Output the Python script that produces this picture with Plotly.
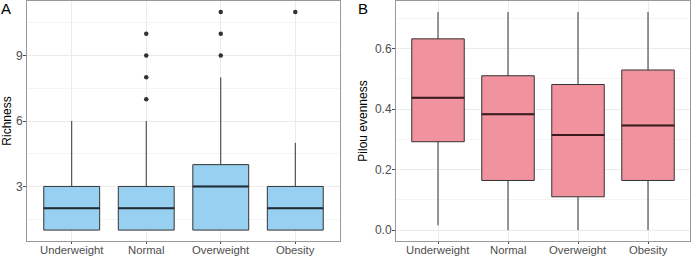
import plotly.graph_objects as go

categories = ["Underweight", "Normal", "Overweight", "Obesity"]

# Panel A: Richness
rich_low = [1, 1, 1, 1]
rich_q1 = [1, 1, 1, 1]
rich_med = [2, 2, 3, 2]
rich_q3 = [3, 3, 4, 3]
rich_high = [6, 6, 8, 5]
rich_outliers = [[], [7, 8, 9, 10], [9, 10, 11], [11]]

# Panel B: Pilou evenness
even_low = [0.016, 0.0, 0.0, 0.0]
even_q1 = [0.292, 0.164, 0.110, 0.164]
even_med = [0.437, 0.383, 0.314, 0.346]
even_q3 = [0.632, 0.510, 0.481, 0.529]
even_high = [0.721, 0.721, 0.721, 0.721]

BLUE = "#97D0F0"
PINK = "#F1939F"
EDGE = "#333333"
BW = 0.75

fig = go.Figure()
pos = [i + 1 for i in range(len(categories))]

def add_panel(xa, ya, low, q1, med, q3, high, fill, medcol, outliers=None):
    fig.add_trace(go.Box(
        x=pos, q1=q1, median=med, q3=q3, lowerfence=low, upperfence=high,
        fillcolor=fill, line=dict(color=EDGE, width=1), width=BW, whiskerwidth=0,
        boxpoints=False, hoverinfo="skip", showlegend=False,
        xaxis=xa, yaxis=ya))
    mx, my = [], []
    for p, m in zip(pos, med):
        mx += [p - BW / 2, p + BW / 2, None]
        my += [m, m, None]
    fig.add_trace(go.Scatter(x=mx, y=my, mode="lines",
                             line=dict(color=medcol, width=2),
                             showlegend=False, hoverinfo="skip", xaxis=xa, yaxis=ya))
    if outliers:
        ox, oy = [], []
        for p, outs in zip(pos, outliers):
            for v in outs:
                ox.append(p)
                oy.append(v)
        fig.add_trace(go.Scatter(x=ox, y=oy, mode="markers",
                                 marker=dict(color="#333333", size=4.5),
                                 showlegend=False, hoverinfo="skip", xaxis=xa, yaxis=ya))

add_panel("x", "y", rich_low, rich_q1, rich_med, rich_q3, rich_high, BLUE, "#1f2a33", rich_outliers)
add_panel("x2", "y2", even_low, even_q1, even_med, even_q3, even_high, PINK, "#3a1a1e")

FONT = "Liberation Sans, Arial, sans-serif"
xtickfont = dict(family=FONT, size=11.3, color="#4D4D4D")
ytickfont = dict(family=FONT, size=12, color="#4D4D4D")
common_x = dict(range=[0.4, 4.6], tickvals=pos, showticklabels=False,
                showgrid=True, gridcolor="#EBEBEB", gridwidth=1, zeroline=False,
                showline=True, mirror=True, linecolor="#999999", linewidth=1,
                ticks="outside", ticklen=2, tickcolor="#4D4D4D")
common_y = dict(showgrid=True, gridcolor="#EBEBEB", gridwidth=1, zeroline=False,
                showline=True, mirror=True, linecolor="#999999", linewidth=1,
                ticks="outside", ticklen=3, tickcolor="#4D4D4D", tickfont=ytickfont,
                ticklabelstandoff=-2)

# x tick labels as text placed under each category
annots = []
for xr in ["x", "x2"]:
    for p, c in zip(pos, categories):
        annots.append(dict(text=c, x=p, y=0, xref=xr, yref="paper", xanchor="center",
                           yanchor="top", showarrow=False, font=xtickfont, yshift=-1))
annots += [
    dict(text="A", x=0, y=1, xref="paper", yref="paper", xanchor="left", yanchor="top",
         showarrow=False, font=dict(size=15, color="black"), xshift=-1, yshift=3),
    dict(text="B", x=356 / 700, y=1, xref="paper", yref="paper", xanchor="left", yanchor="top",
         showarrow=False, font=dict(size=15, color="black"), yshift=3),
]

fig.update_layout(
    width=700, height=257,
    margin=dict(l=0, r=0, t=1, b=16, autoexpand=False),
    paper_bgcolor="white", plot_bgcolor="white",
    font=dict(family=FONT, color="black"),
    xaxis=dict(domain=[27 / 700, 340 / 700], anchor="y", **common_x),
    yaxis=dict(domain=[0, 1], anchor="x", range=[0.5, 11.5], tick0=0, dtick=3,
               minor=dict(dtick=1.5, showgrid=True, gridcolor="#F4F4F4"),
               title=dict(text="Richness", font=dict(size=12, color="black"), standoff=2),
               **common_y),
    xaxis2=dict(domain=[396 / 700, 690 / 700], anchor="y2", **common_x),
    yaxis2=dict(domain=[0, 1], anchor="x2", range=[-0.036, 0.757], tick0=0, dtick=0.2,
                tickformat=".1f",
                minor=dict(dtick=0.1, showgrid=True, gridcolor="#F4F4F4"),
                title=dict(text="Pilou evenness", font=dict(size=12, color="black"), standoff=4),
                **common_y),
    annotations=annots,
)

fig.write_html("out.html", config={"displayModeBar": False},
               post_script="document.body.style.margin='0';document.body.style.padding='0';")
